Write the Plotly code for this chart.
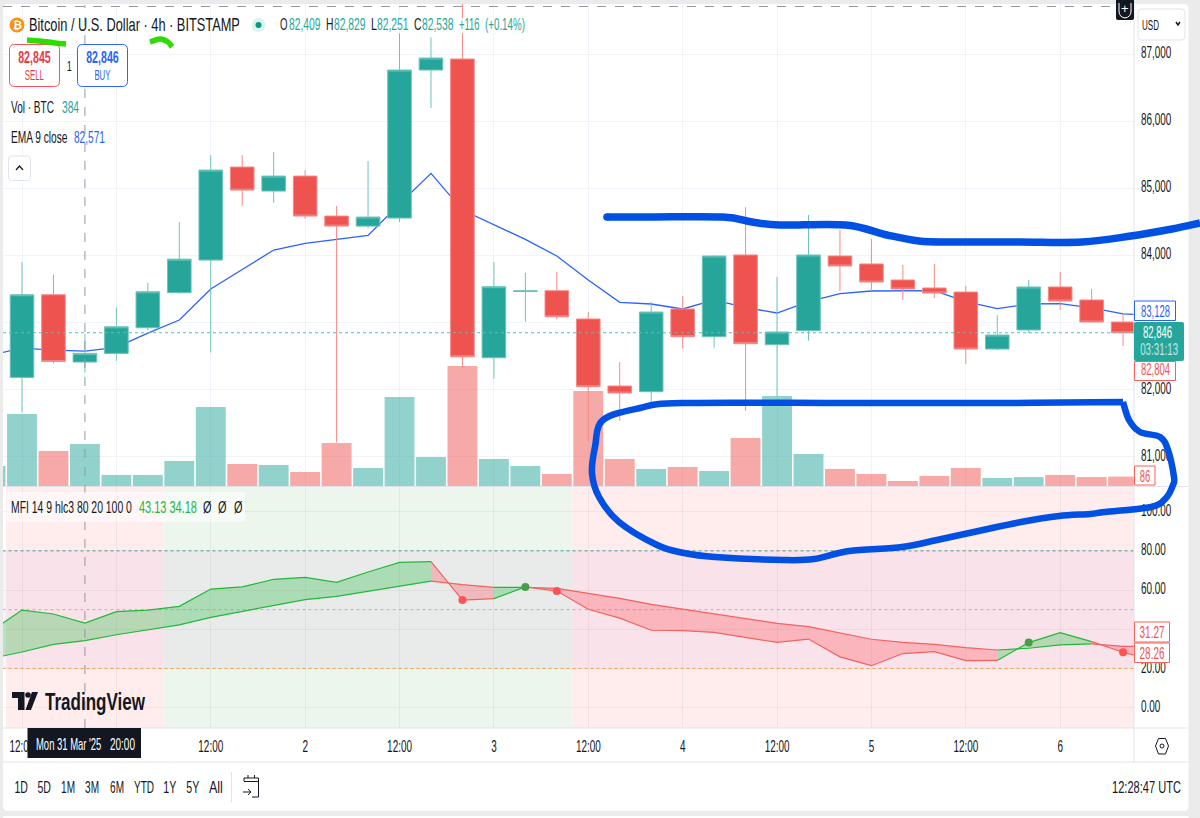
import json

import plotly.graph_objects as go

# ---------- BTC/USD 4h session data ----------
candle_bars = list(range(0, 36))
open_price = [82180, 83412, 82409, 82538, 82920, 83442, 83929, 85315, 84957, 85181, 84585, 84435,
              84555, 86761, 86925, 82473, 83460, 83472, 83051, 82052, 81967, 83200, 82787, 84005,
              82668, 82877, 83990, 83871, 83632, 83513, 83453, 82603, 82887, 83528, 83334, 83006]
high_price = [83900, 83707, 82829, 83224, 83591, 84495, 85494, 85494, 85539, 85270, 84734, 85405,
              87308, 87248, 87745, 83900, 83740, 83755, 83155, 82410, 83304, 83394, 84000, 84716,
              83677, 84601, 84378, 84243, 83856, 83871, 83543, 83110, 83632, 83751, 83498, 83125]
low_price = [81658, 82389, 82251, 82428, 82886, 83430, 82553, 84739, 84783, 84545, 81211, 84400,
             84495, 86195, 82329, 82160, 83010, 83045, 81237, 81535, 81818, 82608, 82623, 81684,
             81893, 82728, 83468, 83468, 83334, 83364, 82380, 82588, 82842, 83185, 83000, 82648]
close_price = [83412, 82418, 82538, 82935, 83457, 83943, 85270, 84972, 85181, 84585, 84435, 84570,
               86761, 86940, 82488, 83532, 83470, 83084, 82042, 81947, 83155, 82787, 83990, 82683,
               82857, 84005, 83841, 83602, 83498, 83438, 82603, 82812, 83528, 83319, 83006, 82846]

# Volume, including the partly scrolled-off bar on the left edge
volume_bars = list(range(-1, 36))
volume = [183, 659, 320, 384, 101, 101, 229, 723, 201, 192, 128, 393, 165, 814, 265, 1098, 247, 183,
          110, 869, 247, 156, 174, 137, 439, 824, 293, 156, 110, 46, 92, 165, 73, 82, 101, 82, 86]
volume_up = [True, True, False, True, True, True, True, True, False, True, False, False, True, True,
             True, False, True, True, False, False, False, True, False, True, False, True, True,
             False, False, False, False, False, True, True, False, False, False]

line_bars = list(range(-1, 37))
ema_close = [82513, 82617, 82587, 82571, 82627, 82841, 83035, 83497, 83789, 84078, 84177, 84237, 84296,
             84764, 85221, 84674, 84450, 84237, 83990, 83632, 83299, 83274, 83200, 83334, 83220, 83140,
             83309, 83428, 83468, 83473, 83473, 83309, 83205, 83274, 83279, 83215, 83128, 83100]
mfi_fast = [38.8, 49.8, 47.8, 43.13, 49.0, 49.8, 51.7, 60.5, 61.6, 65.5, 66.5, 63.9, 69.2, 74.1, 74.5,
            54.9, 55.6, 61.6, 59.5, 50.2, 45.7, 39.5, 39.3, 38.4, 35.9, 33.3, 35.0, 25.9, 21.4, 27.6,
            28.6, 24.0, 24.1, 33.2, 38.3, 33.7, 28.26, 24.1]
mfi_slow = [25.0, 28.4, 32.3, 34.18, 37.2, 39.6, 42.2, 46.1, 49.1, 52.2, 55.1, 56.8, 59.4, 62.2, 64.6,
            62.8, 61.4, 61.4, 60.9, 58.3, 55.8, 52.7, 50.2, 47.8, 45.4, 43.0, 41.3, 38.1, 34.9, 33.3,
            32.3, 30.6, 29.4, 30.3, 32.0, 32.5, 31.27, 31.1]
cross_up_bars = [16, 32]
cross_down_bars = [14, 17, 35]

# Axis ticks; a blank label is a level whose text sits under a tag or the crosshair time
time_ticks = [0, 3, 6, 9, 12, 15, 18, 21, 24, 27, 30, 33]
time_labels = ["12:00", "", "12:00", "2", "12:00", "3", "12:00", "4", "12:00", "5", "12:00", "6"]
price_ticks = [81000, 82000, 83000, 84000, 85000, 86000, 87000]
price_labels = ["81,000", "82,000", "", "84,000", "85,000", "86,000", "87,000"]
mfi_ticks = [0, 20, 40, 60, 80, 100]
mfi_labels = ["0.00", "20.00", "", "60.00", "80.00", "100.00"]
range_buttons = ["1D", "5D", "1M", "3M", "6M", "YTD", "1Y", "5Y", "All"]

# ---------- Style ----------
W, H = 1200, 818
FONT = "Liberation Sans, sans-serif"
INK = "#131722"
TEAL = "#26A69A"
RED = "#EF5350"
WICK_UP = "#6EC3BB"
WICK_DOWN = "#F58A87"
GRID = "#F0F3FA"
BLUE = "#2962FF"
MARKER_BLUE = "#0050E3"
MARKER_GREEN = "#2BDD00"
TICK_SQUEEZE = 0.62


def px(x):
    return x / W


def py(y):
    return 1 - y / H


def pt(x, y):
    return f"{px(x):.5f},{py(y):.5f}"


def rrect(x0, y0, x1, y1, r=4):
    return (f"M{pt(x0 + r, y0)} L{pt(x1 - r, y0)} Q{pt(x1, y0)} {pt(x1, y0 + r)} "
            f"L{pt(x1, y1 - r)} Q{pt(x1, y1)} {pt(x1 - r, y1)} L{pt(x0 + r, y1)} "
            f"Q{pt(x0, y1)} {pt(x0, y1 - r)} L{pt(x0, y0 + r)} Q{pt(x0, y0)} {pt(x0 + r, y0)} Z")


def smooth(points):
    """Catmull-Rom curve through pen-stroke points, as an SVG path."""
    d = [f"M{pt(*points[0])}"]
    n = len(points)
    for i in range(n - 1):
        p0 = points[max(i - 1, 0)]
        p1 = points[i]
        p2 = points[i + 1]
        p3 = points[min(i + 2, n - 1)]
        c1 = (p1[0] + (p2[0] - p0[0]) / 6, p1[1] + (p2[1] - p0[1]) / 6)
        c2 = (p2[0] - (p3[0] - p1[0]) / 6, p2[1] - (p3[1] - p1[1]) / 6)
        d.append(f"C{pt(*c1)} {pt(*c2)} {pt(*p2)}")
    return " ".join(d)


shapes = []
annotations = []
note_widths = []


def paper_path(path, line=None, width=0, fill=None, layer="above", opacity=1):
    shapes.append(dict(type="path", xref="paper", yref="paper", path=path, layer=layer, opacity=opacity,
                       fillcolor=fill or "rgba(0,0,0,0)",
                       line=dict(color=line or "rgba(0,0,0,0)", width=width)))


def paper_rect(x0, y0, x1, y1, fill, line=None, width=0, layer="above", opacity=1):
    shapes.append(dict(type="rect", xref="paper", yref="paper", x0=px(x0), x1=px(x1), y0=py(y0), y1=py(y1),
                       fillcolor=fill, layer=layer, opacity=opacity,
                       line=dict(color=line or "rgba(0,0,0,0)", width=width)))


def paper_line(x0, y0, x1, y1, color, width=1, dash="solid", layer="above"):
    shapes.append(dict(type="line", xref="paper", yref="paper", x0=px(x0), x1=px(x1), y0=py(y0), y1=py(y1),
                       layer=layer, line=dict(color=color, width=width, dash=dash)))


def paper_circle(cx, cy, r, fill, layer="above"):
    shapes.append(dict(type="circle", xref="paper", yref="paper", x0=px(cx - r), x1=px(cx + r),
                       y0=py(cy + r), y1=py(cy - r), fillcolor=fill, layer=layer,
                       line=dict(color="rgba(0,0,0,0)", width=0)))


def note(x, y, text, size=16, color=INK, anchor="left", bold=False, fit=None):
    """Place a label in page pixels; fit is the condensed width it is drawn at."""
    if bold:
        text = f"<b>{text}</b>"
    annotations.append(dict(xref="paper", yref="paper", x=px(x), y=py(y), text=text, showarrow=False,
                            xanchor=anchor, align=anchor, yanchor="middle", borderpad=0,
                            font=dict(family=FONT, size=size, color=color)))
    note_widths.append(fit)


# ---------- Traces ----------
fig = go.Figure()

vol_colors = ["rgba(38,166,154,0.5)" if up else "rgba(239,83,80,0.5)" for up in volume_up]
fig.add_trace(go.Bar(x=volume_bars, y=volume, marker=dict(color=vol_colors, line_width=0), width=0.95,
                     xaxis="x", yaxis="y", showlegend=False))

fig.add_trace(go.Scatter(x=line_bars, y=ema_close, mode="lines", line=dict(color=BLUE, width=1.3),
                         xaxis="x", yaxis="y2", showlegend=False))

fig.add_trace(go.Candlestick(x=candle_bars, open=open_price, high=high_price, low=low_price, close=close_price,
                             increasing=dict(fillcolor=TEAL, line=dict(color=WICK_UP, width=1)),
                             decreasing=dict(fillcolor=RED, line=dict(color=WICK_DOWN, width=1)),
                             xaxis="x", yaxis="y4", showlegend=False))

# MFI reference levels
for level, color in [(80, "#4A9C94"), (50, "#B8B4B4"), (20, "#F5A04A")]:
    fig.add_trace(go.Scatter(x=[line_bars[0], line_bars[-1]], y=[level, level], mode="lines",
                             line=dict(color=color, width=1, dash="dot"),
                             xaxis="x2", yaxis="y3", showlegend=False))

# MFI ribbon: a run of segments takes the colour of the state at each segment's closing bar
green_run = dict(line="#22B83A", fill="rgba(34,190,60,0.3)")
red_run = dict(line="#F4625F", fill="rgba(255,60,70,0.27)")
start = 0
for i in range(1, len(line_bars)):
    rising = mfi_fast[i] >= mfi_slow[i]
    run_ends = i == len(line_bars) - 1 or (mfi_fast[i + 1] >= mfi_slow[i + 1]) != rising
    if run_ends:
        style = green_run if rising else red_run
        xs = line_bars[start:i + 1]
        fig.add_trace(go.Scatter(x=xs, y=mfi_fast[start:i + 1], mode="lines",
                                 line=dict(color=style["line"], width=1.2),
                                 xaxis="x2", yaxis="y3", showlegend=False))
        fig.add_trace(go.Scatter(x=xs, y=mfi_slow[start:i + 1], mode="lines", fill="tonexty",
                                 fillcolor=style["fill"], line=dict(color=style["line"], width=1.2),
                                 xaxis="x2", yaxis="y3", showlegend=False))
        start = i

for bars, color in [(cross_up_bars, "#43A047"), (cross_down_bars, "#FF5252")]:
    fig.add_trace(go.Scatter(x=bars, y=[mfi_fast[line_bars.index(b)] for b in bars], mode="markers",
                             marker=dict(color=color, size=8), xaxis="x2", yaxis="y3", showlegend=False))

# ---------- Page frame ----------
paper_path(rrect(3, 4, 1188.5, 811, 5), fill="#FFFFFF", layer="below")
paper_rect(3, 816, 1188.5, 818, "#FFFFFF", layer="below")

# ---------- MFI pane shading ----------
for x0, x1, color in [(-0.5, 4.5, "#FFECEC"), (4.5, 17.5, "#ECF6EC"), (17.5, 35.35, "#FFECEC")]:
    shapes.append(dict(type="rect", xref="x2", yref="y3 domain", x0=x0, x1=x1, y0=0, y1=1, fillcolor=color,
                       layer="below", line=dict(width=0)))
shapes.append(dict(type="rect", xref="x2 domain", yref="y3", x0=0, x1=1, y0=20, y1=80,
                   fillcolor="rgba(218,177,224,0.16)", layer="below", line=dict(width=0)))

# ---------- Frame separators ----------
paper_line(3, 486.5, 1188, 486.5, "#E0E3EB")
paper_line(3, 728, 1188, 728, "#E0E3EB")
paper_line(3, 762, 1188, 762, "#E0E3EB")
paper_line(1134, 4, 1134, 762, "#E0E3EB")
paper_line(231.5, 772, 231.5, 802, "#E0E3EB")

# Last-price line and crosshair
shapes.append(dict(type="line", xref="x domain", yref="y2", x0=0, x1=1, y0=close_price[-1], y1=close_price[-1],
                   layer="above", line=dict(color="#5CBDB4", width=1, dash="dot")))
shapes.append(dict(type="line", xref="x", yref="paper", x0=2, x1=2, y0=py(728), y1=py(5), layer="above",
                   line=dict(color="#9598A1", width=1, dash="dash")))
paper_line(3, 6.5, 1116, 6.5, "#9598A1", dash="dash")

# Translucent backings behind the pane legends
paper_rect(275, 18, 530, 33, "#FFFFFF", opacity=0.85)
paper_rect(7, 492, 245, 522, "#FFFFFF", opacity=0.6)

# ---------- Price-scale tags ----------
paper_rect(1134.5, 301, 1175.5, 320.5, "#FFFFFF", BLUE, 1)
note(1155, 311, "83,128", 16, BLUE, "center", fit=29)
paper_path(rrect(1134, 322, 1184, 361, 2), fill=TEAL)
note(1157, 332.5, "82,846", 16, "#FFFFFF", "center", fit=29)
note(1159, 350, "03:31:13", 16, "#BFE6E2", "center", fit=38)
paper_rect(1134.5, 361.5, 1175.5, 380.5, "#FFFFFF", "#F7605D", 1)
note(1155, 370, "82,804", 16, "#EF5350", "center", fit=29)
paper_rect(1134.5, 466, 1155, 485, "#FFFFFF", "#F7605D", 1)
note(1145, 476, "86", 16, "#EF5350", "center", fit=10.5)
paper_rect(1134.5, 622, 1169.5, 642, "#FFFFFF", "#F7605D", 1)
note(1152, 632, "31.27", 16, "#EF5350", "center", fit=25)
paper_rect(1134.5, 643, 1169.5, 662.5, "#FFFFFF", "#F7605D", 1)
note(1152, 653, "28.26", 16, "#EF5350", "center", fit=25)

# ---------- Header ----------
paper_circle(17, 25, 7.5, "#F7931A")
note(17, 25, "₿", 11, "#FFFFFF", "center", bold=True)
note(28, 25, "Bitcoin / U.S. Dollar · 4h · BITSTAMP", 18, INK, fit=211)
paper_circle(258.5, 25, 7, "#DDF3EF")
paper_circle(258.5, 25, 3, "#089981")

# Open/high/low/close readout for the bar under the crosshair
note(279.3, 25, "O", 16, INK, fit=7.5)
note(287.5, 25, "82,409", 16, TEAL, fit=31.5)
note(324.6, 25, "H", 16, INK, fit=7.5)
note(333, 25, "82,829", 16, TEAL, fit=31.5)
note(369.6, 25, "L", 16, INK, fit=6)
note(376, 25, "82,251", 16, TEAL, fit=31.5)
note(413, 25, "C", 16, INK, fit=7.5)
note(420.7, 25, "82,538", 16, TEAL, fit=31.5)
note(458, 25, "+116", 16, TEAL, fit=20.5)
note(484, 25, "(+0.14%)", 16, TEAL, fit=40)

paper_path(rrect(9.5, 44.5, 59.5, 86.5, 5), fill="#FFFFFF", line="#F7525F", width=1)
note(34.5, 58, "82,845", 16, "#F23645", "center", bold=True, fit=32.5)
note(34.5, 75, "SELL", 15, "#F23645", "center", fit=19)
note(68.5, 66, "1", 15, INK, "center", fit=5)
paper_path(rrect(77.5, 44.5, 127.5, 86.5, 5), fill="#FFFFFF", line=BLUE, width=1)
note(102.5, 58, "82,846", 16, BLUE, "center", bold=True, fit=32.5)
note(102.5, 75, "BUY", 15, BLUE, "center", fit=16)

note(10, 107, "Vol · BTC", 16, fit=43)
note(60.7, 107, "384", 16, TEAL, fit=17)
note(10, 137, "EMA 9 close", 16, fit=56.5)
note(73, 137, "82,571", 16, BLUE, fit=31)
paper_path(rrect(8.5, 156, 30.5, 180.5, 3), fill="#FFFFFF", line="#E0E3EB", width=1)
paper_path(f"M{pt(16, 170)} L{pt(19.5, 166)} L{pt(23, 170)}", line=INK, width=1.2)

note(9.6, 507, "MFI 14 9 hlc3 80 20 100 0", 16, fit=121)
note(138, 507, "43.13 34.18", 16, "#22B83A", fit=58)
for x in [201.7, 217, 232.7]:
    note(x, 507, "Ø", 16, INK, fit=8.5)

# Top-right scale controls
paper_path(rrect(1116, -4, 1134, 20, 2), fill=INK)
paper_path(f"M{pt(1119, 3)} L{pt(1119, 11)} Q{pt(1119, 17)} {pt(1125, 18)} Q{pt(1131, 17)} {pt(1131, 11)} "
           f"L{pt(1131, 3)}", line="#FFFFFF", width=1)
note(1125, 8, "+", 13, "#FFFFFF", "center")
paper_path(rrect(1138, 9, 1185, 40, 4), fill="#FFFFFF", line="#E0E3EB", width=1)
note(1141, 24, "USD", 15, INK, fit=17)
paper_path(f"M{pt(1176, 22)} L{pt(1178, 25)} L{pt(1180, 22)}", line=INK, width=1.5)

# ---------- Logo ----------
paper_path(f"M{pt(12, 692)} L{pt(24.5, 692)} L{pt(24.5, 710)} L{pt(18, 710)} L{pt(18, 698)} L{pt(12, 698)} Z",
           fill=INK)
paper_circle(28, 695, 2.8, INK)
paper_path(f"M{pt(32, 692)} L{pt(38, 692)} L{pt(31, 710)} L{pt(25.5, 710)} Z", fill=INK)
note(44, 701, "TradingView", 24, INK, bold=True, fit=100)

# ---------- Time-axis tag and bottom bar ----------
paper_rect(27.5, 728, 141, 758, INK)
note(34.5, 744, "Mon 31 Mar '25", 16, "#FFFFFF", fit=65.5)
note(109.3, 744, "20:00", 16, "#FFFFFF", fit=25)

button_widths = [13.5, 13.5, 14, 14, 14, 20, 13, 13, 14]
for x, label, width in zip([21, 44, 68, 92, 117, 143.5, 170, 193, 216], range_buttons, button_widths):
    note(x, 787, label, 16, INK, "center", fit=width)
note(1111, 787, "12:28:47 UTC", 16, INK, fit=69)

# Calendar-jump icon
paper_path(f"M{pt(244, 781)} L{pt(244, 778)} L{pt(258.5, 778)} L{pt(258.5, 797)} L{pt(252, 797)}", line=INK, width=1)
paper_path(f"M{pt(244, 781.5)} L{pt(258.5, 781.5)}", line=INK, width=1)
paper_path(f"M{pt(248, 775)} L{pt(248, 778)} M{pt(254.5, 775)} L{pt(254.5, 778)}", line=INK, width=1)
paper_path(f"M{pt(243, 792)} L{pt(251, 792)} M{pt(248, 789)} L{pt(251, 792)} L{pt(248, 795)}", line=INK, width=1)

# Settings hexagon
paper_path(f"M{pt(1155.5, 746)} L{pt(1158.5, 738.5)} L{pt(1165.5, 738.5)} L{pt(1168.5, 746)} "
           f"L{pt(1165.5, 754)} L{pt(1158.5, 754)} Z", line=INK, width=1)
shapes.append(dict(type="circle", xref="paper", yref="paper", x0=px(1160), x1=px(1164), y0=py(748), y1=py(744),
                   layer="above", line=dict(color=INK, width=1)))

# ---------- Pen markup over the chart ----------
upper_stroke = [(607, 217), (650, 217), (723, 217), (752, 222), (780, 225), (846, 225), (887, 235), (919, 241),
                (952, 242), (1020, 242), (1082, 242), (1131, 236), (1172, 229), (1200, 223)]
lower_loop = [(1123, 402), (1000, 403), (850, 403), (682, 403), (640, 408), (603, 420), (595, 447), (592, 473),
              (599, 497), (619, 522), (657, 545), (684, 553), (715, 557), (784, 560), (814, 559), (849, 551),
              (902, 547), (937, 540), (983, 530), (1021, 522), (1059, 516), (1090, 514), (1105, 512), (1151, 507),
              (1166, 498), (1173, 485), (1174, 477), (1168, 450), (1160, 437), (1140, 432), (1129, 420), (1123, 402)]
paper_path(smooth(upper_stroke), line=MARKER_BLUE, width=7.5)
paper_circle(607, 217, 3.8, MARKER_BLUE)
paper_path(smooth(lower_loop), line=MARKER_BLUE, width=6.5)
paper_path(smooth([(27, 40), (40, 41), (55, 43), (66, 44)]), line=MARKER_GREEN, width=5.5)
paper_path(smooth([(150, 42), (160, 39), (168, 42), (172, 47)]), line=MARKER_GREEN, width=5.5)

# ---------- Axes ----------
x_lo, x_hi = (3 - 22) / 31.46, (1134 - 22) / 31.46
price_range = [87000 - (486 - 54) * 14.903, 87000 + (54 - 4) * 14.903]
price_domain = [py(486), py(4)]
tick_font = dict(family=FONT, size=16, color=INK)

fig.update_layout(
    width=W, height=H, margin=dict(l=0, r=0, t=0, b=0), autosize=False,
    paper_bgcolor="#EBEBEB", plot_bgcolor="rgba(0,0,0,0)",
    showlegend=False, barmode="overlay", boxgap=0.25, boxgroupgap=0,
    shapes=shapes, annotations=annotations,
    xaxis=dict(domain=[px(3), px(1134)], range=[x_lo, x_hi], tickmode="array", tickvals=time_ticks,
               showticklabels=False, showgrid=True, gridcolor=GRID, zeroline=False, anchor="y",
               rangeslider=dict(visible=False), ticks=""),
    xaxis2=dict(domain=[px(3), px(1134)], range=[x_lo, x_hi], tickmode="array", tickvals=time_ticks,
                ticktext=time_labels, tickfont=tick_font, showgrid=True, gridcolor="rgba(120,123,134,0.09)",
                zeroline=False, anchor="y3", ticks="", ticklabelstandoff=7),
    yaxis=dict(domain=price_domain, range=[0, 482 / 0.1093], visible=False, fixedrange=True),
    yaxis2=dict(domain=price_domain, range=price_range, overlaying="y", visible=False),
    yaxis4=dict(domain=price_domain, range=price_range, overlaying="y", side="right", anchor="x",
                tickmode="array", tickvals=price_ticks, ticktext=price_labels, tickfont=tick_font,
                showgrid=True, gridcolor=GRID, zeroline=False, ticks="", ticklabelstandoff=6),
    yaxis3=dict(domain=[py(728), py(487)], range=[-10.4, 112.6], side="right", anchor="x2",
                tickmode="array", tickvals=mfi_ticks, ticktext=mfi_labels, tickfont=tick_font,
                showgrid=True, gridcolor="rgba(120,123,134,0.09)", zeroline=False, ticks="",
                ticklabelstandoff=6),
)

# The chart's labels are set in a condensed cut: narrow each text run about its anchor
condense_labels = """
var squeeze = function (t, k) {
  var ax = parseFloat(t.getAttribute('x')) || 0;
  var base = t.getAttribute('transform') || '';
  t.setAttribute('transform', base + ' translate(' + ax + ' 0) scale(' + k + ' 1) translate(' + (-ax) + ' 0)');
};
var widths = %s;
gd.querySelectorAll('.annotation').forEach(function (g) {
  var t = g.querySelector('text');
  var width = widths[+g.getAttribute('data-index')];
  if (t && width) {
    squeeze(t, width / t.getComputedTextLength());
    g.querySelectorAll('rect').forEach(function (r) { r.remove(); });
  }
});
gd.querySelectorAll('.x2tick text').forEach(function (t) { squeeze(t, %s); });
gd.querySelectorAll('.y3tick text, .y4tick text').forEach(function (t) {
  squeeze(t, %s);
  t.setAttribute('dy', '-1.5');
});
""" % (json.dumps(note_widths), TICK_SQUEEZE, TICK_SQUEEZE)

fig.write_html("out.html", post_script="var gd = document.getElementById('{plot_id}');" + condense_labels)
